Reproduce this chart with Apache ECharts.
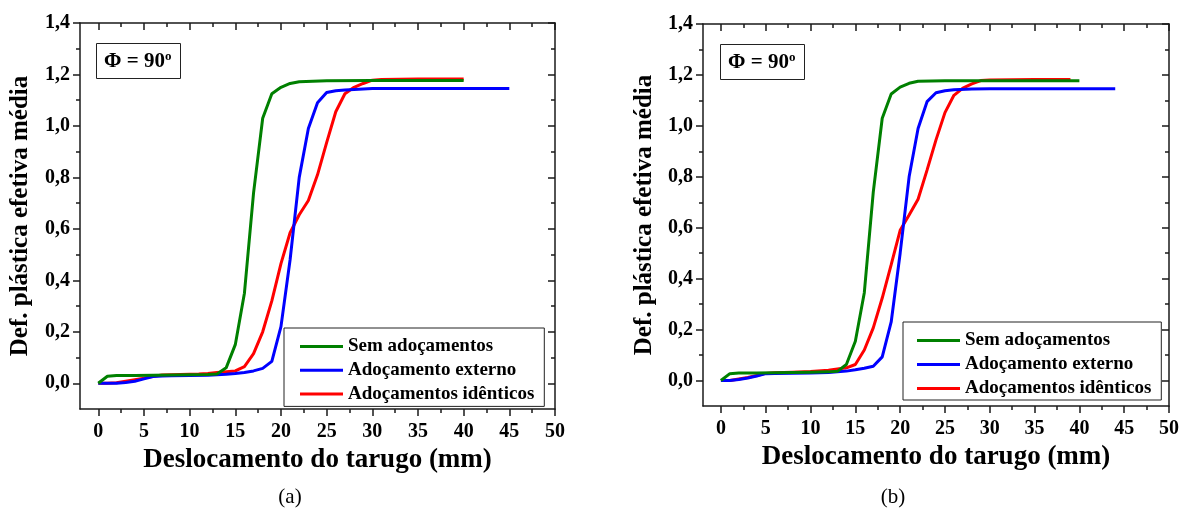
<!DOCTYPE html>
<html>
<head>
<meta charset="utf-8">
<script src="https://cdn.jsdelivr.net/npm/echarts@6/dist/echarts.min.js"></script>
<style>
html,body{margin:0;padding:0;background:#fff;}
#c{width:1183px;height:513px;}
</style>
</head>
<body>
<div id="c"></div>
<script>
// ---- DATA ----
const seriesNames = ['Sem adoçamentos', 'Adoçamento externo', 'Adoçamentos idênticos'];
const seriesColors = ['#008000', '#0000ff', '#ff0000'];
const xTickMajor = [0, 5, 10, 15, 20, 25, 30, 35, 40, 45, 50];
const xTickMinor = [2.5, 7.5, 12.5, 17.5, 22.5, 27.5, 32.5, 37.5, 42.5, 47.5];
const yTickMajor = [0, 0.2, 0.4, 0.6, 0.8, 1.0, 1.2, 1.4];
const yTickMinor = [0.1, 0.3, 0.5, 0.7, 0.9, 1.1, 1.3];

// Panel (a)
const a_sem_x = [0, 1, 2, 4, 6, 8, 10, 12, 13, 14, 15, 16, 17, 18, 19, 20, 21, 22, 25, 30, 35, 40];
const a_sem_y = [0, 0.027, 0.03, 0.03, 0.031, 0.032, 0.033, 0.034, 0.036, 0.06, 0.15, 0.35, 0.74, 1.03, 1.125, 1.15, 1.165, 1.172, 1.176, 1.177, 1.177, 1.177];
const a_ext_x = [0, 1, 2, 3, 4, 5, 6, 7, 8, 10, 12, 13, 14, 15, 16, 17, 18, 19, 20, 21, 22, 23, 24, 25, 26, 27, 30, 35, 40, 45];
const a_ext_y = [0, 0, 0, 0.003, 0.008, 0.017, 0.026, 0.028, 0.029, 0.03, 0.031, 0.033, 0.035, 0.038, 0.042, 0.048, 0.058, 0.085, 0.22, 0.48, 0.8, 0.99, 1.09, 1.13, 1.137, 1.14, 1.145, 1.145, 1.145, 1.145];
const a_ide_x = [0, 1, 2, 3, 4, 5, 6, 7, 8, 9, 10, 11, 12, 13, 14, 15, 16, 17, 18, 19, 20, 21, 22, 23, 24, 25, 26, 27, 28, 29, 30, 31, 35, 40];
const a_ide_y = [0, 0, 0.002, 0.008, 0.014, 0.02, 0.027, 0.032, 0.033, 0.034, 0.035, 0.036, 0.038, 0.042, 0.045, 0.048, 0.065, 0.115, 0.2, 0.32, 0.465, 0.585, 0.655, 0.71, 0.81, 0.935, 1.055, 1.125, 1.15, 1.165, 1.178, 1.18, 1.182, 1.182];

// Panel (b)
const b_sem_x = [0, 1, 2, 4, 6, 8, 10, 12, 13, 14, 15, 16, 17, 18, 19, 20, 21, 22, 25, 30, 35, 40];
const b_sem_y = [0, 0.027, 0.03, 0.03, 0.031, 0.032, 0.033, 0.034, 0.036, 0.063, 0.154, 0.345, 0.74, 1.03, 1.125, 1.152, 1.167, 1.175, 1.177, 1.177, 1.177, 1.177];
const b_ext_x = [0, 1, 2, 3, 4, 5, 6, 8, 10, 12, 13, 14, 15, 16, 17, 18, 19, 20, 21, 22, 23, 24, 25, 26, 28, 30, 35, 40, 44];
const b_ext_y = [0, 0, 0.004, 0.01, 0.018, 0.027, 0.028, 0.029, 0.03, 0.032, 0.034, 0.037, 0.042, 0.048, 0.056, 0.093, 0.23, 0.5, 0.8, 0.99, 1.095, 1.13, 1.138, 1.142, 1.145, 1.146, 1.146, 1.146, 1.146];
const b_ide_x = [0, 1, 2, 3, 4, 5, 6, 8, 10, 12, 13, 14, 15, 16, 17, 18, 19, 20, 21, 22, 23, 24, 25, 26, 27, 28, 29, 30, 35, 39];
const b_ide_y = [0, 0, 0.006, 0.012, 0.02, 0.028, 0.031, 0.033, 0.035, 0.04, 0.045, 0.05, 0.063, 0.12, 0.207, 0.324, 0.455, 0.59, 0.65, 0.712, 0.826, 0.945, 1.052, 1.12, 1.148, 1.165, 1.178, 1.18, 1.182, 1.182];

const panelLabels = ['(a)', '(b)'];
const phiMain = 'Φ = 90';
const xTitle = 'Deslocamento do tarugo (mm)';
const yTitle = 'Def. plástica efetiva média';

// ---- BUILD ----
function zip(xs, ys) { return xs.map((x, i) => [x, ys[i]]); }
const panels = [
  { grid: { left: 80, top: 23, width: 475, height: 386 }, yNameGap: 47, xNameGap: 34,
    data: [zip(a_sem_x, a_sem_y), zip(a_ext_x, a_ext_y), zip(a_ide_x, a_ide_y)],
    legend: { left: 284, top: 328, padding: [8, 10, 2, 16], gap: 2.7 },
    phi: { left: 96, top: 43 }, label: { x: 290, y: 497 } },
  { grid: { left: 703, top: 24, width: 466, height: 382 }, yNameGap: 46, xNameGap: 33,
    data: [zip(b_sem_x, b_sem_y), zip(b_ext_x, b_ext_y), zip(b_ide_x, b_ide_y)],
    legend: { left: 903, top: 322, padding: [8, 10, 1, 14], gap: 3 },
    phi: { left: 720, top: 44 }, label: { x: 893, y: 497 } }
];

const FONT = '"Liberation Serif", "Times New Roman", serif';
const AX = '#1a1a1a';
const grids = [], xAxes = [], yAxes = [], series = [], legends = [], titles = [], graphics = [];

panels.forEach((p, pi) => {
  grids.push(p.grid);
  const xBase = { gridIndex: pi, type: 'value', min: -2, max: 50, splitLine: { show: false } };
  const yBase = { gridIndex: pi, type: 'value', min: -0.1, max: 1.4, splitLine: { show: false } };
  xAxes.push(Object.assign({}, xBase, {
    position: 'bottom',
    axisLine: { show: true, onZero: false, lineStyle: { color: AX, width: 1.5 } },
    axisTick: { show: true, inside: false, length: 7, customValues: xTickMajor, lineStyle: { color: AX, width: 1.5 } },
    axisLabel: { show: true, customValues: xTickMajor, margin: 13, color: '#000', fontFamily: FONT, fontWeight: 'bold', fontSize: 20 },
    name: xTitle, nameLocation: 'middle', nameGap: p.xNameGap,
    nameTextStyle: { color: '#000', fontFamily: FONT, fontWeight: 'bold', fontSize: 27 }
  }));
  xAxes.push(Object.assign({}, xBase, {
    position: 'bottom',
    axisLine: { show: false, onZero: false },
    axisTick: { show: true, inside: false, length: 4, customValues: xTickMinor, lineStyle: { color: AX, width: 1.5 } },
    axisLabel: { show: false }
  }));
  xAxes.push(Object.assign({}, xBase, {
    position: 'top',
    axisLine: { show: true, onZero: false, lineStyle: { color: AX, width: 1.5 } },
    axisTick: { show: true, inside: true, length: 7, customValues: xTickMajor, lineStyle: { color: AX, width: 1.5 } },
    axisLabel: { show: false }
  }));
  xAxes.push(Object.assign({}, xBase, {
    position: 'top',
    axisLine: { show: false, onZero: false },
    axisTick: { show: true, inside: true, length: 4, customValues: xTickMinor, lineStyle: { color: AX, width: 1.5 } },
    axisLabel: { show: false }
  }));
  yAxes.push(Object.assign({}, yBase, {
    position: 'left',
    axisLine: { show: true, onZero: false, lineStyle: { color: AX, width: 1.5 } },
    axisTick: { show: true, inside: false, length: 7, customValues: yTickMajor, lineStyle: { color: AX, width: 1.5 } },
    axisLabel: { show: true, customValues: yTickMajor, margin: 10, color: '#000', fontFamily: FONT, fontWeight: 'bold', fontSize: 20,
      formatter: v => v.toFixed(1).replace('.', ',') },
    name: yTitle, nameLocation: 'middle', nameGap: p.yNameGap, nameRotate: 90,
    nameTextStyle: { color: '#000', fontFamily: FONT, fontWeight: 'bold', fontSize: 25 }
  }));
  yAxes.push(Object.assign({}, yBase, {
    position: 'left',
    axisLine: { show: false, onZero: false },
    axisTick: { show: true, inside: false, length: 4, customValues: yTickMinor, lineStyle: { color: AX, width: 1.5 } },
    axisLabel: { show: false }
  }));
  yAxes.push(Object.assign({}, yBase, {
    position: 'right',
    axisLine: { show: true, onZero: false, lineStyle: { color: AX, width: 1.5 } },
    axisTick: { show: true, inside: true, length: 7, customValues: yTickMajor, lineStyle: { color: AX, width: 1.5 } },
    axisLabel: { show: false }
  }));
  yAxes.push(Object.assign({}, yBase, {
    position: 'right',
    axisLine: { show: false, onZero: false },
    axisTick: { show: true, inside: true, length: 4, customValues: yTickMinor, lineStyle: { color: AX, width: 1.5 } },
    axisLabel: { show: false }
  }));

  p.data.forEach((d, si) => {
    series.push({
      type: 'line', name: seriesNames[si], xAxisIndex: pi * 4, yAxisIndex: pi * 4,
      data: d, symbol: 'none', smooth: false, z: 5 - si,
      lineStyle: { color: seriesColors[si], width: 3 }, itemStyle: { color: seriesColors[si] }
    });
  });

  legends.push({
    left: p.legend.left, top: p.legend.top, orient: 'vertical', padding: p.legend.padding,
    data: seriesNames.slice(), icon: 'rect', itemWidth: 43, itemHeight: 3, itemGap: p.legend.gap,
    borderColor: '#222', borderWidth: 1, backgroundColor: '#fff',
    textStyle: { color: '#000', fontFamily: FONT, fontWeight: 'bold', fontSize: 19, lineHeight: 21 },
    selectedMode: false
  });

  titles.push({
    left: p.phi.left, top: p.phi.top, padding: [7, 9, 6, 8],
    borderColor: '#222', borderWidth: 1,
    text: '{m|' + phiMain + '}{s|o}',
    textStyle: { rich: {
      m: { fontFamily: FONT, fontWeight: 'bold', fontSize: 21, color: '#000', lineHeight: 24 },
      s: { fontFamily: FONT, fontWeight: 'bold', fontSize: 13, color: '#000', verticalAlign: 'top', lineHeight: 24 }
    } }
  });

  graphics.push({
    type: 'text', x: p.label.x, y: p.label.y,
    style: { text: panelLabels[pi], font: '21px ' + FONT, fill: '#000', textAlign: 'center', textVerticalAlign: 'middle' }
  });
});

const chart = echarts.init(document.getElementById('c'), null, { renderer: 'canvas' });
chart.setOption({
  animation: false,
  backgroundColor: '#fff',
  grid: grids, xAxis: xAxes, yAxis: yAxes, series: series,
  legend: legends, title: titles, graphic: graphics
});
</script>
</body>
</html>
